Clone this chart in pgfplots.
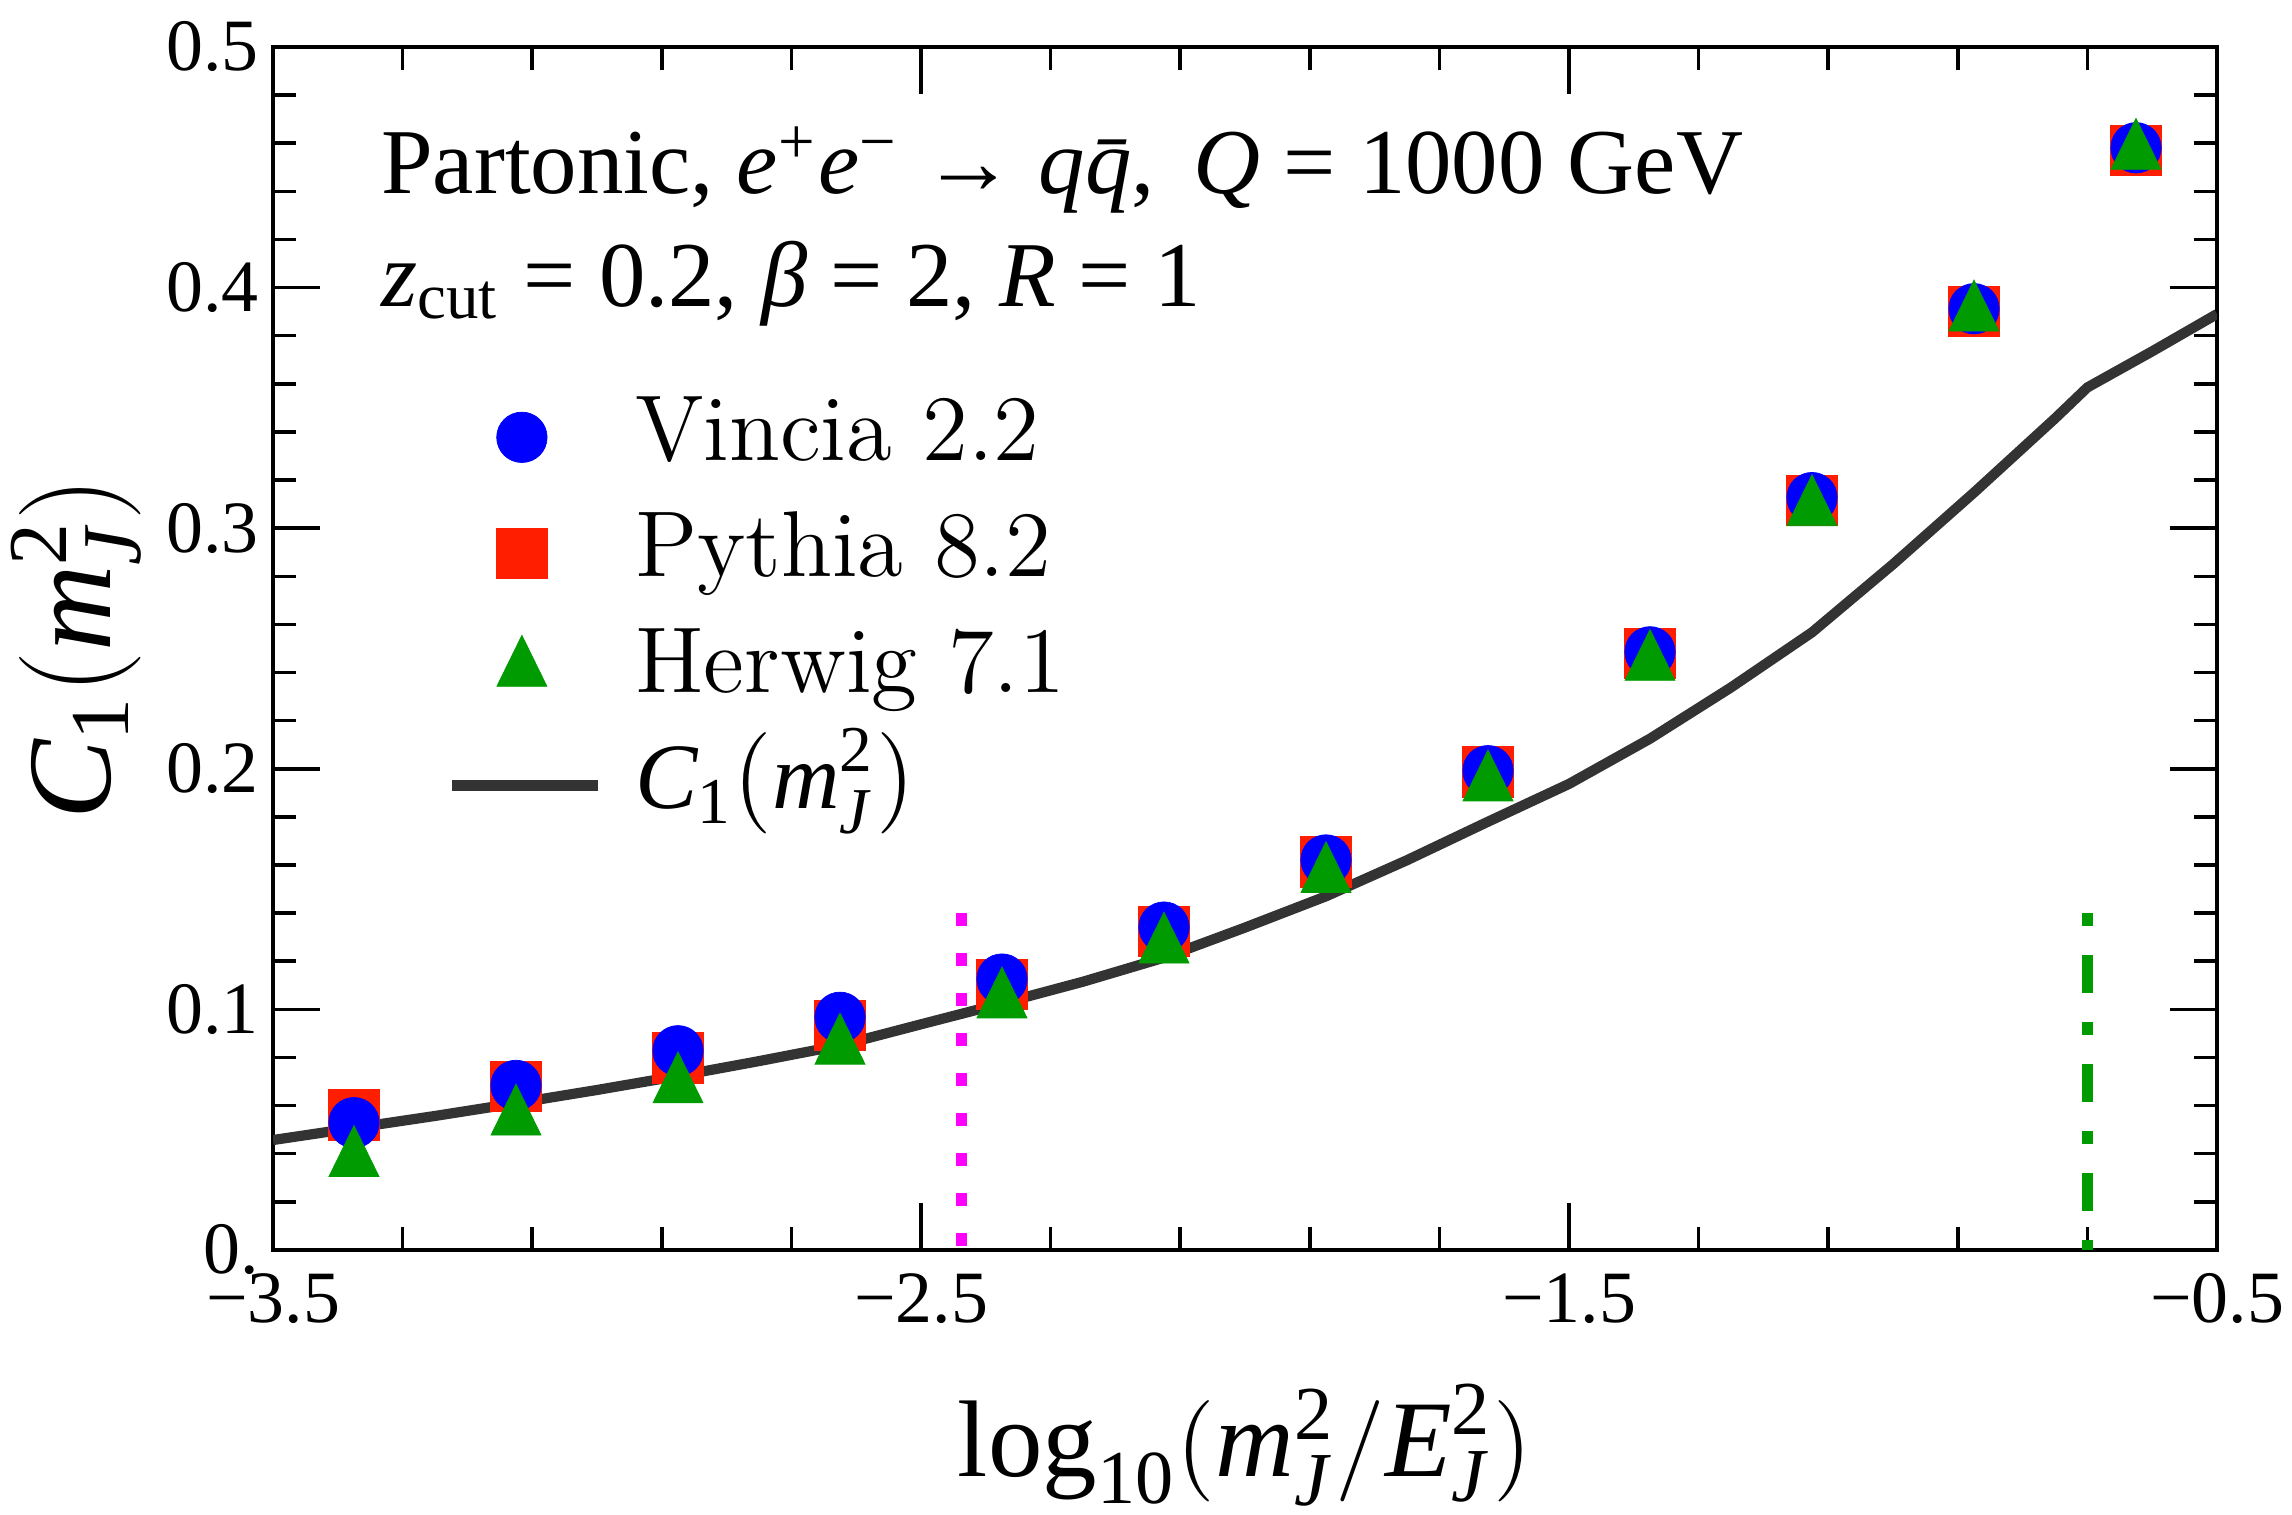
\documentclass[border=0pt]{standalone}
\usepackage{amsmath}
\usepackage{fontspec}
\usepackage{pgfplots}
\pgfplotsset{compat=1.18}
\newfontfamily\tms{Liberation Serif}
\newcommand{\ti}[1]{\text{\tms\itshape #1}}
\newcommand{\tr}[1]{\text{\tms #1}}
\definecolor{vblue}{RGB}{0,0,255}
\definecolor{pred}{RGB}{255,30,0}
\definecolor{hgreen}{RGB}{0,155,0}
\definecolor{cgray}{RGB}{51,51,51}
\definecolor{mag}{RGB}{255,0,255}
\pgfplotsset{
  markleg/.style={legend image code/.code={\path (0mm,0) (7.3mm,0); \draw[##1] plot coordinates {(3.5mm,0)};}},
  lineleg/.style={legend image code/.code={\draw[##1] (0mm,0) -- (7.3mm,0);}},
  vmark/.style={vblue, only marks, mark=*, mark size=1.26mm, mark options={solid, draw=vblue, fill=vblue, line width=0.1pt}},
  pmark/.style={pred, only marks, mark=square*, mark size=1.26mm, mark options={solid, draw=pred, fill=pred, line width=0.1pt}},
  hmark/.style={hgreen, only marks, mark=triangle*, mark size=1.70mm, mark options={solid, xscale=0.85, draw=hgreen, fill=hgreen, line width=0.1pt}},
}
\begin{document}
\begin{tikzpicture}
\begin{axis}[
  scale only axis, width=97.2mm, height=60.15mm,
  xmin=-3.5, xmax=-0.5, ymin=0, ymax=0.5,
  xtick={-3.5,-2.5,-1.5,-0.5},
  xticklabels={−3.5,−2.5,−1.5,−0.5},
  ytick={0,0.1,0.2,0.3,0.4,0.5},
  yticklabels={0.,0.1,0.2,0.3,0.4,0.5},
  minor x tick num=4, minor y tick num=4,
  tick align=inside,
  major tick length=2.35mm, minor tick length=1.15mm,
  every tick/.style={black, line width=0.5pt},
  axis line style={line width=0.55pt},
  ticklabel style={font=\tms\fontsize{10.5}{12}\selectfont},
  xticklabel style={inner sep=0pt, anchor=north, yshift=-1.1mm},
  yticklabel style={inner sep=0pt, anchor=east, xshift=-0.65mm},
  xlabel={$\tr{log}_{\tr{10}}(\ti{m}_{\ti{J}}^{\tr{2}}/\ti{E}_{\ti{J}}^{\tr{2}})$},
  ylabel={$\ti{C}_{\tr{1}}(\ti{m}_{\ti{J}}^{\tr{2}})$},
  every axis x label/.style={at={(axis description cs:0.5,-0.1879)}, anchor=base, font=\fontsize{15.5}{18}\selectfont},
  every axis y label/.style={at={(axis description cs:-0.0838,0.5)}, rotate=90, anchor=base, font=\fontsize{17}{19}\selectfont},
  legend style={at={(axis description cs:0.0885,0.7249)}, anchor=north west, draw=none, fill=none,
    font=\fontsize{13.3}{15}\selectfont, row sep=0pt, inner sep=0pt, column sep=0.85mm,
    nodes={text height=3.3mm, text depth=1.0mm, inner sep=0.75mm}},
  legend cell align=left,
]
% curve
\addplot[cgray, line width=1.45pt, forget plot] coordinates {
(-3.5,0.0457) (-3.375,0.0507) (-3.25,0.0557) (-3.125,0.0610) (-3.0,0.0665)
(-2.875,0.0723) (-2.75,0.0785) (-2.625,0.0850) (-2.5,0.0938) (-2.375,0.1025)
(-2.25,0.1115) (-2.125,0.1215) (-2.0,0.1340) (-1.875,0.1470) (-1.75,0.1620)
(-1.625,0.1780) (-1.5,0.1937) (-1.375,0.2125) (-1.25,0.2338) (-1.125,0.2567)
(-1.0,0.2850) (-0.875,0.3148) (-0.75,0.3456) (-0.70,0.3585) (-0.6,0.3735) (-0.5,0.3890)
};
% vertical lines
\addplot[mag, line width=1.6pt, dash pattern=on 0.65mm off 1.35mm, forget plot] coordinates {(-2.437,0.14) (-2.437,0)};
\addplot[hgreen, line width=1.6pt, dash pattern=on 0.65mm off 1.45mm on 1.9mm off 1.45mm, forget plot] coordinates {(-0.70,0.14) (-0.70,0)};
% Pythia
\addplot[pmark, forget plot] coordinates {
(-3.375,0.0562) (-3.125,0.0680) (-2.875,0.0799) (-2.625,0.0934) (-2.375,0.1104) (-2.125,0.1324)
(-1.875,0.1613) (-1.625,0.1987) (-1.375,0.2479) (-1.125,0.3115) (-0.875,0.3902) (-0.625,0.4571)
};
% Vincia
\addplot[vmark, forget plot] coordinates {
(-3.375,0.0529) (-3.125,0.0684) (-2.875,0.0828) (-2.625,0.0967) (-2.375,0.1126) (-2.125,0.1342)
(-1.875,0.1621) (-1.625,0.1992) (-1.375,0.2486) (-1.125,0.3127) (-0.875,0.3912) (-0.625,0.4581)
};
% Herwig
\addplot[hmark, forget plot] coordinates {
(-3.375,0.0376) (-3.125,0.0548) (-2.875,0.0682) (-2.625,0.0843) (-2.375,0.1035) (-2.125,0.1263)
(-1.875,0.1556) (-1.625,0.1937) (-1.375,0.2438) (-1.125,0.3081) (-0.875,0.3890) (-0.625,0.4562)
};
% legend
\addlegendimage{vmark, markleg}
\addlegendentry{Vincia 2.2}
\addlegendimage{pmark, markleg}
\addlegendentry{Pythia 8.2}
\addlegendimage{hmark, markleg}
\addlegendentry{Herwig 7.1}
\addlegendimage{cgray, line width=1.55pt, lineleg}
\addlegendentry{$\ti{C}_{\tr{1}}(\ti{m}_{\ti{J}}^{\tr{2}})$}
% annotations
\node[anchor=base west, inner sep=0pt, font=\tms\fontsize{13.2}{15}\selectfont] at (axis cs:-3.335,0.4389)
  {Partonic, \textit{e}\textsuperscript{+}\textit{e}\textsuperscript{−} → \textit{q\=q},\, \textit{Q} = 1000 GeV};
\node[anchor=base west, inner sep=0pt, font=\tms\fontsize{13.2}{15}\selectfont] at (axis cs:-3.335,0.3923)
  {\textit{z}\textsubscript{cut} = 0.2, \textit{β} = 2, \textit{R} = 1};
\end{axis}
\pgfresetboundingbox
\path (-13.65mm,-13.25mm) rectangle (100.95mm,62.5mm);
\end{tikzpicture}
\end{document}
